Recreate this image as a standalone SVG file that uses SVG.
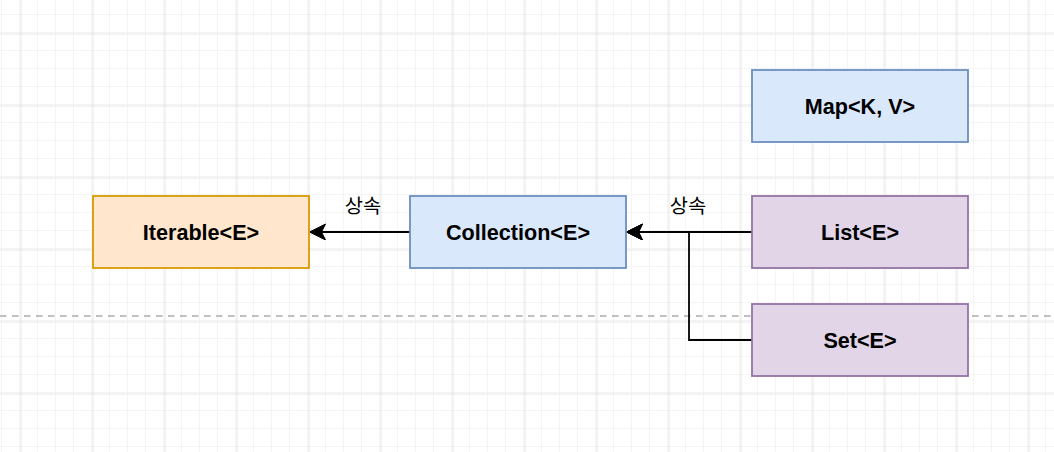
<svg xmlns="http://www.w3.org/2000/svg" width="1054" height="452" viewBox="0 0 1054 452">
  <style>
    .node rect { stroke-width: 1.8; }
    .orange rect { fill: #ffe6cc; stroke: #d79b00; }
    .blue rect { fill: #dae8fc; stroke: #6c8ebf; }
    .purple rect { fill: #e1d5e7; stroke: #9673a6; }
    .node text { font-family: "Liberation Sans", Arial, sans-serif; font-weight: bold; font-size: 21.6px; text-anchor: middle; fill: #000; }
    .edge { fill: none; stroke: #000; stroke-width: 1.8; marker-end: url(#arrow); }
    .label { font-family: "Liberation Sans", "Noto Sans CJK KR", sans-serif; font-size: 19.8px; text-anchor: middle; dominant-baseline: central; fill: #000; }
  </style>
  <defs>
    <pattern id="minor" x="1" y="14" width="18" height="18" patternUnits="userSpaceOnUse">
      <path d="M0,0 V18 M0,0 H18" fill="none" stroke="#f4f4f4" stroke-width="2"/>
    </pattern>
    <pattern id="major" x="20.5" y="33.5" width="72" height="72" patternUnits="userSpaceOnUse">
      <path d="M0,0 V72 M0,0 H72" fill="none" stroke="#d0d0d0" stroke-width="1"/>
    </pattern>
    <marker id="arrow" markerUnits="userSpaceOnUse" markerWidth="20" markerHeight="20" refX="16" refY="8" orient="auto" viewBox="0 0 20 20">
      <path d="M16,8 L0,0 L4,8 L0,16 Z" fill="#000" stroke="#000" stroke-width="1"/>
    </marker>
  </defs>
  <g id="background">
    <rect width="1054" height="452" fill="#ffffff"/>
    <rect width="1054" height="452" fill="url(#minor)"/>
    <rect width="1054" height="452" fill="url(#major)"/>
    <line x1="0" y1="316" x2="1054" y2="316" stroke="#c0c0c0" stroke-width="1.8" stroke-dasharray="6.5 5.5"/>
  </g>
  <g id="connectors">
    <path class="edge" d="M410,232 H309.5"/>
    <path class="edge" d="M752,232 H626.5"/>
    <path class="edge" d="M752,340 H689 V232 H626.5"/>
    <text class="label" x="363" y="205.5">상속</text>
    <text class="label" x="688" y="205.5">상속</text>
  </g>
  <g id="iterable" class="node orange">
    <rect x="93" y="196" width="216" height="72"/>
    <text x="201" y="240">Iterable&lt;E&gt;</text>
  </g>
  <g id="collection" class="node blue">
    <rect x="410" y="196" width="216" height="72"/>
    <text x="518" y="240">Collection&lt;E&gt;</text>
  </g>
  <g id="map" class="node blue">
    <rect x="752" y="70" width="216" height="72"/>
    <text x="860" y="114">Map&lt;K, V&gt;</text>
  </g>
  <g id="list" class="node purple">
    <rect x="752" y="196" width="216" height="72"/>
    <text x="860" y="240">List&lt;E&gt;</text>
  </g>
  <g id="set" class="node purple">
    <rect x="752" y="304" width="216" height="72"/>
    <text x="860" y="348">Set&lt;E&gt;</text>
  </g>
</svg>
